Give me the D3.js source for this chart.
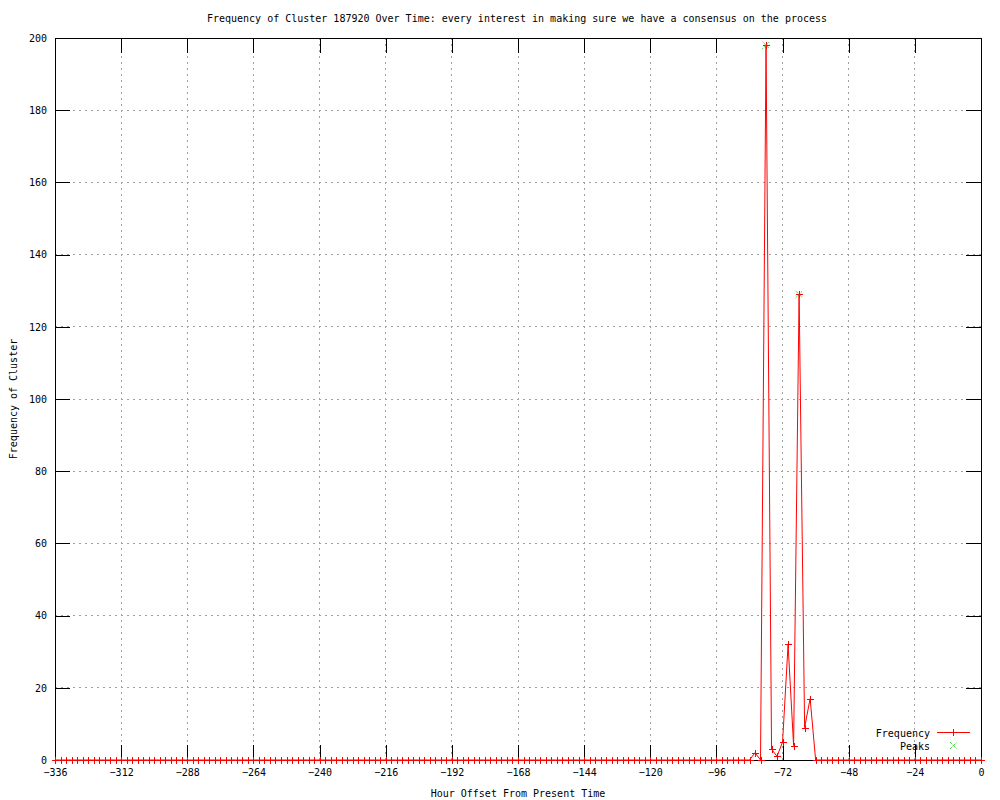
<!DOCTYPE html>
<html>
<head>
<meta charset="utf-8">
<script src="https://cdn.jsdelivr.net/npm/d3@7"></script>
<style>
  body { margin: 0; background: #fff; }
  text { font-family: "DejaVu Sans Mono", monospace; font-size: 10px; fill: #000; }
</style>
</head>
<body>
<svg id="chart" width="1000" height="800"></svg>
<script>
// ---- data ----
const titleText = "Frequency of Cluster 187920 Over Time: every interest in making sure we have a consensus on the process";
const xLabel = "Hour Offset From Present Time";
const yLabel = "Frequency of Cluster";
const hours = d3.range(-336, 1, 2);
const frequency = [
  0,0,0,0,0,0,0,0,0,0, 0,0,0,0,0,0,0,0,0,0,
  0,0,0,0,0,0,0,0,0,0, 0,0,0,0,0,0,0,0,0,0,
  0,0,0,0,0,0,0,0,0,0, 0,0,0,0,0,0,0,0,0,0,
  0,0,0,0,0,0,0,0,0,0, 0,0,0,0,0,0,0,0,0,0,
  0,0,0,0,0,0,0,0,0,0, 0,0,0,0,0,0,0,0,0,0,
  0,0,0,0,0,0,0,0,0,0, 0,0,0,0,0,0,0,0,0,0,
  0,0,0,0,0,0,0,2,0,198, 3,1,5,32,4,129,9,17,0,0,
  0,0,0,0,0,0,0,0,0,0, 0,0,0,0,0,0,0,0,0,0,
  0,0,0,0,0,0,0,0,0
];
const peakHours = [-78, -66];
const peakValues = [198, 129];
const xTicks = [-336,-312,-288,-264,-240,-216,-192,-168,-144,-120,-96,-72,-48,-24,0];
const yTicks = [0,20,40,60,80,100,120,140,160,180,200];

// ---- layout ----
const L = 55, R = 981, T = 38, B = 760;
const svg = d3.select("#chart");
const x = d3.scaleLinear().domain([-336, 0]).range([L, R]);
const y = d3.scaleLinear().domain([0, 200]).range([B, T]);
const tickLen = 15;

// grid
const grid = svg.append("g").attr("shape-rendering", "crispEdges");
xTicks.filter(t => t !== -336 && t !== 0).forEach(t => {
  grid.append("line").attr("x1", x(t)).attr("x2", x(t)).attr("y1", T).attr("y2", B)
    .attr("stroke", "#a0a0a0").attr("stroke-dasharray", "2,4");
});
yTicks.filter(t => t !== 0 && t !== 200).forEach(t => {
  grid.append("line").attr("x1", L).attr("x2", R).attr("y1", y(t)).attr("y2", y(t))
    .attr("stroke", "#a0a0a0").attr("stroke-dasharray", "2,4");
});

// axes via d3
const xAxisB = d3.axisBottom(x).tickValues(xTicks).tickSize(-tickLen).tickPadding(9).tickFormat(d3.format("d"));
const xAxisT = d3.axisTop(x).tickValues(xTicks).tickSize(-tickLen).tickFormat("");
const yAxisL = d3.axisLeft(y).tickValues(yTicks).tickSize(-tickLen).tickPadding(8).tickFormat(d3.format("d"));
const yAxisR = d3.axisRight(y).tickValues(yTicks).tickSize(-tickLen).tickFormat("");

function styleAxis(g) {
  g.select(".domain").remove();
  g.selectAll("line").attr("stroke", "#000");
  g.selectAll("text").attr("fill", "#000").style("font-family", '"DejaVu Sans Mono", monospace').style("font-size", "10px");
  g.attr("shape-rendering", "crispEdges");
}
svg.append("g").attr("transform", `translate(0,${B})`).call(xAxisB).call(styleAxis);
svg.append("g").attr("transform", `translate(0,${T})`).call(xAxisT).call(styleAxis);
svg.append("g").attr("transform", `translate(${L},0)`).call(yAxisL).call(styleAxis);
svg.append("g").attr("transform", `translate(${R},0)`).call(yAxisR).call(styleAxis);

// border
svg.append("rect").attr("x", L).attr("y", T).attr("width", R - L).attr("height", B - T)
  .attr("fill", "none").attr("stroke", "#000").attr("shape-rendering", "crispEdges");

// data line
const pts = hours.map((h, i) => [h, frequency[i]]);
const line = d3.line().x(d => x(d[0])).y(d => y(d[1]));
svg.append("path").datum(pts).attr("d", line).attr("fill", "none").attr("stroke", "#ff0000").attr("stroke-width", 1);

// plus markers
const ms = 3.5;
const mk = svg.append("g").attr("stroke", "#ff0000").attr("stroke-width", 1).attr("shape-rendering", "crispEdges");
pts.forEach(d => {
  const px = Math.round(x(d[0])) + 0.5, py = Math.round(y(d[1])) + 0.5;
  mk.append("line").attr("x1", px - ms).attr("x2", px + ms).attr("y1", py).attr("y2", py);
  mk.append("line").attr("x1", px).attr("x2", px).attr("y1", py - ms).attr("y2", py + ms);
});

// peaks
const ps = 3.5;
const pk = svg.append("g").attr("stroke", "#00c000").attr("stroke-width", 1).attr("stroke-dasharray", "1,1");
peakHours.forEach((h, i) => {
  const px = x(h), py = y(peakValues[i]);
  pk.append("line").attr("x1", px - ps).attr("x2", px + ps).attr("y1", py - ps).attr("y2", py + ps);
  pk.append("line").attr("x1", px - ps).attr("x2", px + ps).attr("y1", py + ps).attr("y2", py - ps);
});

// title and labels
svg.append("text").attr("x", 517).attr("y", 22).attr("text-anchor", "middle").text(titleText);
svg.append("text").attr("x", 518).attr("y", 797).attr("text-anchor", "middle").text(xLabel);
svg.append("text").attr("transform", "translate(17,399) rotate(-90)").attr("text-anchor", "middle").text(yLabel);

// legend
const lg = svg.append("g");
lg.append("text").attr("x", 930).attr("y", 737).attr("text-anchor", "end").text("Frequency");
lg.append("line").attr("x1", 937).attr("x2", 970).attr("y1", 732.5).attr("y2", 732.5).attr("stroke", "#ff0000").attr("shape-rendering", "crispEdges");
lg.append("line").attr("x1", 953.5).attr("x2", 953.5).attr("y1", 729).attr("y2", 736).attr("stroke", "#ff0000").attr("shape-rendering", "crispEdges");
lg.append("text").attr("x", 930).attr("y", 750).attr("text-anchor", "end").text("Peaks");
lg.append("line").attr("x1", 950).attr("x2", 957).attr("y1", 742).attr("y2", 749).attr("stroke", "#00c000").attr("stroke-dasharray", "1,1");
lg.append("line").attr("x1", 950).attr("x2", 957).attr("y1", 749).attr("y2", 742).attr("stroke", "#00c000").attr("stroke-dasharray", "1,1");
</script>
</body>
</html>
